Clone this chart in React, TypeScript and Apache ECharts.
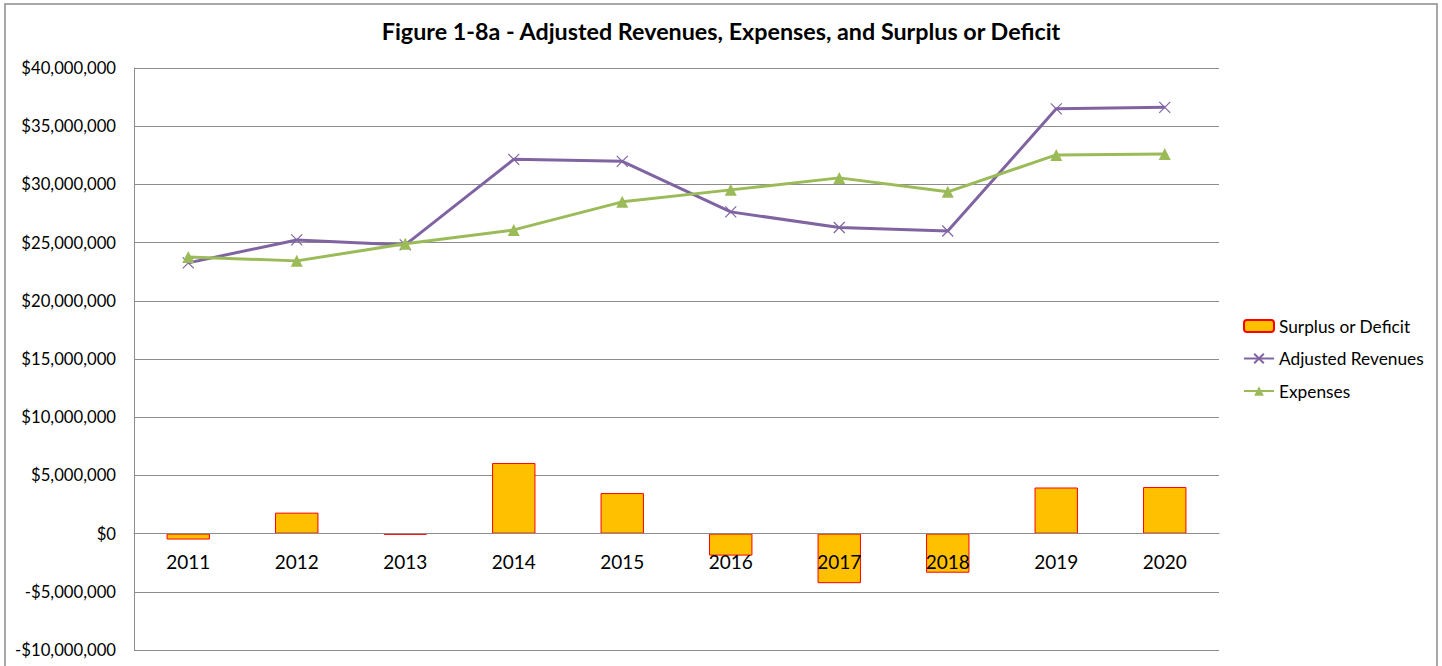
import React, { useEffect, useRef } from "react";
import * as echarts from "echarts";

const categories = ["2011", "2012", "2013", "2014", "2015", "2016", "2017", "2018", "2019", "2020"];
const adjustedRevenues = [23260000, 25230000, 24800000, 32150000, 31980000, 27640000, 26300000, 26000000, 36490000, 36620000];
const expenses = [23770000, 23430000, 24900000, 26090000, 28500000, 29530000, 30560000, 29360000, 32530000, 32620000];
const surplusOrDeficit = [-510000, 1800000, -100000, 6060000, 3480000, -1890000, -4260000, -3360000, 3960000, 4000000];

const Y_MIN = -10000000;
const Y_MAX = 40000000;
const Y_STEP = 5000000;

const TITLE = "Figure 1-8a - Adjusted Revenues, Expenses, and Surplus or Deficit";
const FONT = "Lato, 'Open Sans', sans-serif";

const GRID_TOP = 68;
const GRID_BOTTOM = 16;
const CHART_H = 666;

function fmtMoney(v: number): string {
  const abs = Math.abs(v).toLocaleString("en-US");
  return (v < 0 ? "-$" : "$") + abs;
}

export default function App() {
  const ref = useRef<HTMLDivElement>(null);
  useEffect(() => {
    if (!ref.current) return;
    const chart = echarts.init(ref.current, undefined, { renderer: "svg" });
    const gridH = CHART_H - GRID_TOP - GRID_BOTTOM;
    // move the category axis up from the grid bottom to the zero line
    const zeroOffset = (gridH * (0 - Y_MIN)) / (Y_MAX - Y_MIN);
    chart.setOption({
      animation: false,
      backgroundColor: "#ffffff",
      textStyle: { fontFamily: FONT },
      title: {
        text: TITLE,
        left: "center",
        top: 14,
        textStyle: { fontFamily: FONT, fontSize: 23.3, fontWeight: "bold", color: "#000000" },
      },
      graphic: [
        {
          type: "rect",
          shape: { x: 5, y: 4, width: 1432, height: 700 },
          style: { fill: "none", stroke: "#8c8c8c", lineWidth: 1.5 },
          silent: true,
        },
      ],
      legend: {
        orient: "vertical",
        left: 1238,
        top: 311,
        itemWidth: 30,
        itemHeight: 12,
        itemGap: 12.5,
        textStyle: { fontFamily: FONT, fontSize: 17.3, color: "#000000", lineHeight: 20 },
        data: ["Surplus or Deficit", "Adjusted Revenues", "Expenses"],
      },
      grid: { left: 134, right: 223, top: GRID_TOP, bottom: GRID_BOTTOM, containLabel: false, outerBoundsMode: "none" },
      xAxis: {
        type: "category",
        data: categories,
        z: 3,
        position: "bottom",
        offset: -zeroOffset,
        axisLine: { onZero: false, lineStyle: { color: "#8c8c8c", width: 1 } },
        axisTick: { show: false },
        axisLabel: { fontFamily: FONT, fontSize: 19, color: "#000000", margin: 18 },
      },
      yAxis: {
        type: "value",
        min: Y_MIN,
        max: Y_MAX,
        interval: Y_STEP,
        axisLine: { show: true, lineStyle: { color: "#8c8c8c", width: 1 } },
        axisTick: { show: false },
        splitLine: { lineStyle: { color: "#8c8c8c", width: 1 } },
        axisLabel: {
          fontFamily: FONT,
          fontSize: 16.7,
          color: "#000000",
          margin: 18,
          formatter: (v: number) => fmtMoney(v),
        },
      },
      series: [
        {
          name: "Surplus or Deficit",
          type: "bar",
          data: surplusOrDeficit,
          barWidth: "40%",
          itemStyle: { color: "#FFC000", borderColor: "#FF0000", borderWidth: 1 },
        },
        {
          name: "Adjusted Revenues",
          type: "line",
          data: adjustedRevenues,
          symbol: "path://M0,0L10,10M10,0L0,10",
          symbolSize: 11,
          lineStyle: { color: "#8064A2", width: 3 },
          itemStyle: { color: "#8064A2", borderColor: "#8064A2", borderWidth: 1.2 },
          z: 4,
        },
        {
          name: "Expenses",
          type: "line",
          data: expenses,
          symbol: "triangle",
          symbolSize: 12,
          lineStyle: { color: "#9BBB59", width: 3 },
          itemStyle: { color: "#9BBB59" },
          z: 5,
        },
      ],
    });
    return () => chart.dispose();
  }, []);
  return (
    <div
      ref={ref}
      style={{ position: "absolute", left: 0, top: 0, width: 1442, height: 666 }}
    />
  );
}
